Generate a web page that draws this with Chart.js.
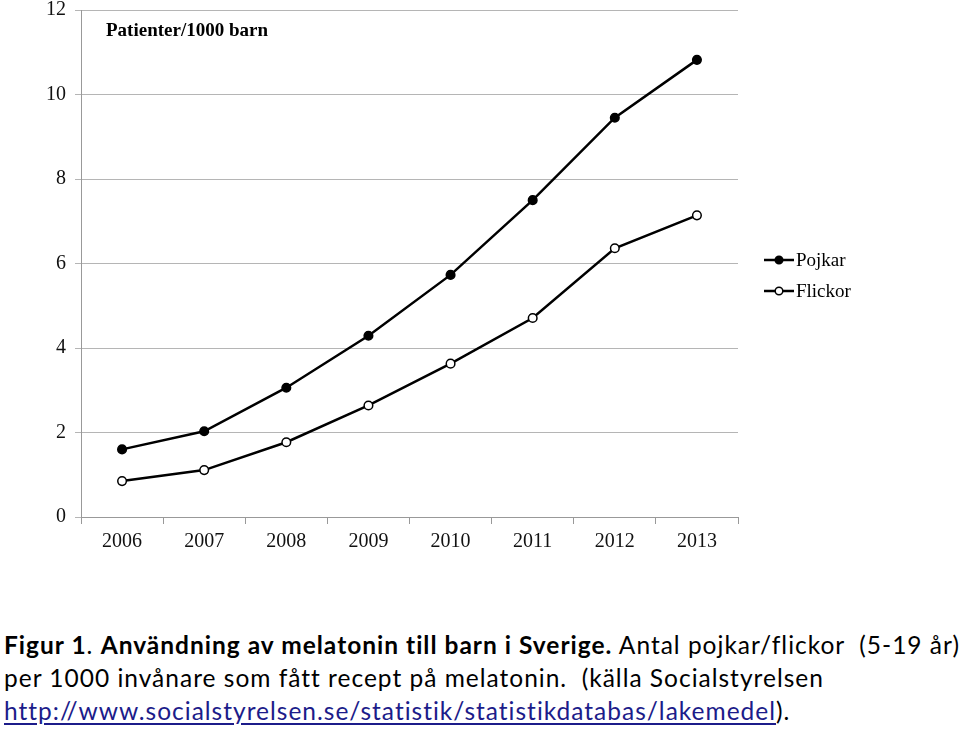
<!DOCTYPE html>
<html>
<head>
<meta charset="utf-8">
<script src="https://cdn.jsdelivr.net/npm/chart.js@4"></script>
<style>
  html,body{margin:0;padding:0;background:#fff;overflow:hidden;}
  #wrap{position:relative;width:960px;height:730px;overflow:hidden;}
  #chartBox{position:absolute;left:0;top:-11px;width:960px;height:571px;}
  #ptitle{position:absolute;left:106px;top:19px;font-family:"Liberation Serif","Times New Roman",serif;font-weight:bold;font-size:19px;color:#000;}
  #caption{position:absolute;left:4px;top:628px;width:960px;font-family:Lato,"Open Sans",sans-serif;font-size:24.5px;letter-spacing:1.0px;line-height:33px;color:#000;white-space:nowrap;}
  #caption a{color:#1c1c8a;text-decoration:underline;text-underline-offset:3px;}
</style>
</head>
<body>
<div id="wrap">
  <div id="chartBox"><canvas id="c" width="960" height="571"></canvas></div>
  <div id="ptitle">Patienter/1000 barn</div>
  <div id="caption">
    <b>Figur 1</b>. <b>Användning av melatonin till barn i Sverige.</b> Antal pojkar/flickor&nbsp; (5-19 år)<br>
    per 1000 invånare som fått recept på melatonin.&nbsp; (källa Socialstyrelsen<br>
    <a>http://www.socialstyrelsen.se/statistik/statistikdatabas/lakemedel</a>).
  </div>
</div>
<script>
const years = ["2006","2007","2008","2009","2010","2011","2012","2013"];
const pojkar = [1.60, 2.03, 3.06, 4.29, 5.73, 7.50, 9.45, 10.82];
const flickor = [0.85, 1.11, 1.77, 2.64, 3.63, 4.71, 6.36, 7.14];
const seriesNames = ["Pojkar", "Flickor"];

const serif = "'Liberation Serif','Times New Roman',serif";

const legendPlugin = {
  id: 'customLegend',
  afterDraw(chart) {
    const ctx = chart.ctx;
    const items = [
      {name: seriesNames[0], fill: '#000', y: 271},
      {name: seriesNames[1], fill: '#fff', y: 302}
    ];
    ctx.save();
    items.forEach(it => {
      ctx.strokeStyle = '#000';
      ctx.lineWidth = 2.5;
      ctx.beginPath();
      ctx.moveTo(764, it.y);
      ctx.lineTo(794, it.y);
      ctx.stroke();
      ctx.beginPath();
      ctx.arc(779, it.y, 3.8, 0, Math.PI * 2);
      ctx.fillStyle = it.fill;
      ctx.fill();
      ctx.lineWidth = 1.5;
      ctx.stroke();
      ctx.fillStyle = '#000';
      ctx.font = "19px " + serif;
      ctx.textBaseline = 'middle';
      ctx.fillText(it.name, 796, it.y + 1);
    });
    ctx.restore();
  }
};

new Chart(document.getElementById('c'), {
  type: 'line',
  data: {
    labels: years,
    datasets: [
      {label: seriesNames[0], data: pojkar, borderColor: '#000', borderWidth: 2.5,
       pointBackgroundColor: '#000', pointBorderColor: '#000', pointRadius: 4.3, pointBorderWidth: 1.5, tension: 0},
      {label: seriesNames[1], data: flickor, borderColor: '#000', borderWidth: 2.5,
       pointBackgroundColor: '#fff', pointBorderColor: '#000', pointRadius: 4.3, pointBorderWidth: 1.5, tension: 0}
    ]
  },
  options: {
    responsive: false,
    animation: false,
    devicePixelRatio: 1,
    layout: {padding: {left: 0, right: 222, top: 0, bottom: 0}},
    plugins: {legend: {display: false}, tooltip: {enabled: false}, title: {display: false}},
    scales: {
      x: {
        offset: true,
        grid: {offset: true, drawOnChartArea: false, drawTicks: true, tickLength: 7, color: '#999', lineWidth: 1},
        border: {display: true, color: '#999', width: 1},
        ticks: {font: {family: serif, size: 20}, color: '#111', padding: 6, maxRotation: 0},
        afterFit(s) { s.height = 43; }
      },
      y: {
        min: 0, max: 12,
        ticks: {stepSize: 2, font: {family: serif, size: 20}, color: '#111', padding: 9},
        grid: {color: '#b5b5b5', lineWidth: 1, drawTicks: true, tickLength: 6},
        border: {display: true, color: '#999', width: 1},
        afterFit(s) { s.width = 81; }
      }
    }
  },
  plugins: [legendPlugin]
});
</script>
</body>
</html>
